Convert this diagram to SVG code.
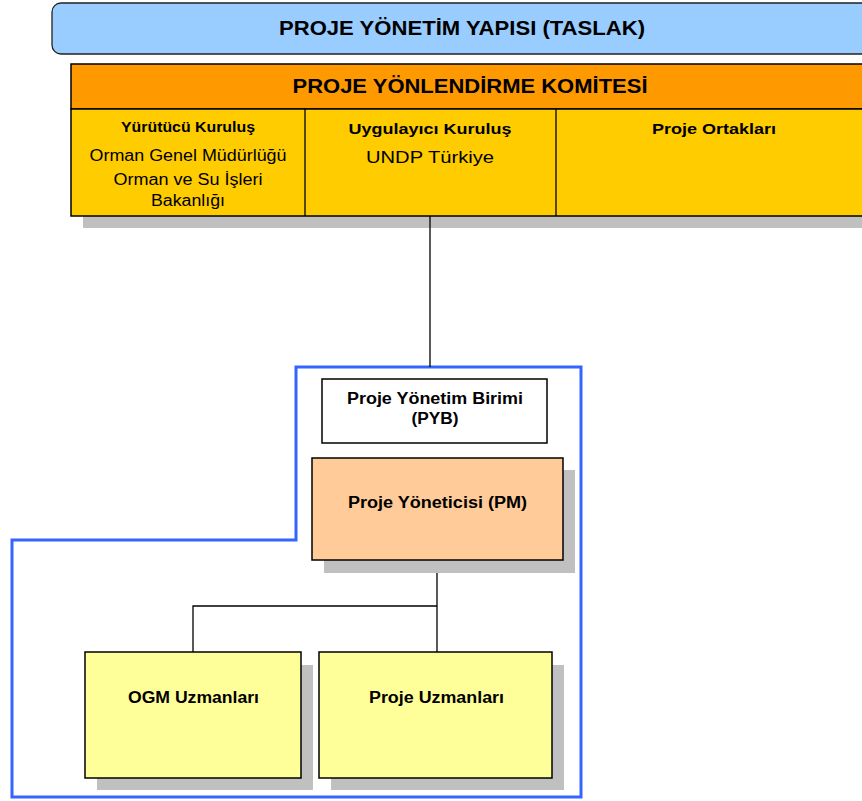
<svg xmlns="http://www.w3.org/2000/svg" width="862" height="801" viewBox="0 0 862 801">
<style>
text{font-family:"Liberation Sans",Arial,sans-serif;fill:#000;text-anchor:middle}
.b{font-weight:bold}
.box{stroke:#000;stroke-width:1.5}
.sh{fill:#C0C0C0}
.ln{stroke:#000;stroke-width:1.3;fill:none}
</style>
<rect width="862" height="801" fill="#fff"/>
<g id="title">
<rect x="52" y="3" width="830" height="51" rx="9" fill="#99CCFF" stroke="#222" stroke-width="1.3"/>
<text x="462" y="35" class="b" font-size="20" textLength="366" lengthAdjust="spacingAndGlyphs">PROJE YÖNETİM YAPISI (TASLAK)</text>
</g>
<g id="committee">
<rect class="sh" x="83" y="216" width="790" height="12"/>
<rect x="71" y="64" width="800" height="45" fill="#FF9900" class="box"/>
<rect x="71" y="109" width="800" height="107" fill="#FFCC00" class="box"/>
<line x1="305" y1="109" x2="305" y2="216" class="ln"/>
<line x1="556" y1="109" x2="556" y2="216" class="ln"/>
<text x="470" y="93" class="b" font-size="20" textLength="355" lengthAdjust="spacingAndGlyphs">PROJE YÖNLENDİRME KOMİTESİ</text>
<text x="188" y="132" class="b" font-size="14" textLength="134" lengthAdjust="spacingAndGlyphs">Yürütücü Kuruluş</text>
<text x="188" y="161" font-size="16" textLength="197" lengthAdjust="spacingAndGlyphs">Orman Genel Müdürlüğü</text>
<text x="188" y="185" font-size="16" textLength="149" lengthAdjust="spacingAndGlyphs">Orman ve Su İşleri</text>
<text x="188" y="206" font-size="16" textLength="74" lengthAdjust="spacingAndGlyphs">Bakanlığı</text>
<text x="430" y="134" class="b" font-size="15" textLength="163" lengthAdjust="spacingAndGlyphs">Uygulayıcı Kuruluş</text>
<text x="430" y="163" font-size="17" textLength="128" lengthAdjust="spacingAndGlyphs">UNDP Türkiye</text>
<text x="714" y="134" class="b" font-size="15" textLength="124" lengthAdjust="spacingAndGlyphs">Proje Ortakları</text>
</g>
<g id="pyb-frame">
<path d="M296,367 H581 V797 H12 V540 H296 Z" fill="none" stroke="#3366FF" stroke-width="3"/>
</g>
<g id="connectors">
<line x1="430" y1="216" x2="430" y2="367" class="ln"/>
<path d="M437,560 V652 M437,606 H193 V652" class="ln"/>
</g>
<g id="pyb">
<rect x="322" y="379" width="225" height="64" fill="#fff" class="box"/>
<text x="435" y="404" class="b" font-size="16" textLength="176" lengthAdjust="spacingAndGlyphs">Proje Yönetim Birimi</text>
<text x="435" y="424" class="b" font-size="16" textLength="47" lengthAdjust="spacingAndGlyphs">(PYB)</text>
</g>
<g id="pm">
<rect class="sh" x="324" y="470" width="251" height="103"/>
<rect x="312" y="458" width="251" height="102" fill="#FFCC99" class="box"/>
<text x="437.5" y="508" class="b" font-size="16" textLength="179" lengthAdjust="spacingAndGlyphs">Proje Yöneticisi (PM)</text>
</g>
<g id="ogm">
<rect class="sh" x="97" y="665" width="216" height="125"/>
<rect x="85" y="652" width="216" height="126" fill="#FFFF99" class="box"/>
<text x="193.5" y="703" class="b" font-size="16" textLength="131" lengthAdjust="spacingAndGlyphs">OGM Uzmanları</text>
</g>
<g id="proje-uzmanlari">
<rect class="sh" x="331" y="665" width="233" height="125"/>
<rect x="319" y="652" width="233" height="126" fill="#FFFF99" class="box"/>
<text x="436.5" y="703" class="b" font-size="16" textLength="135" lengthAdjust="spacingAndGlyphs">Proje Uzmanları</text>
</g>
</svg>
